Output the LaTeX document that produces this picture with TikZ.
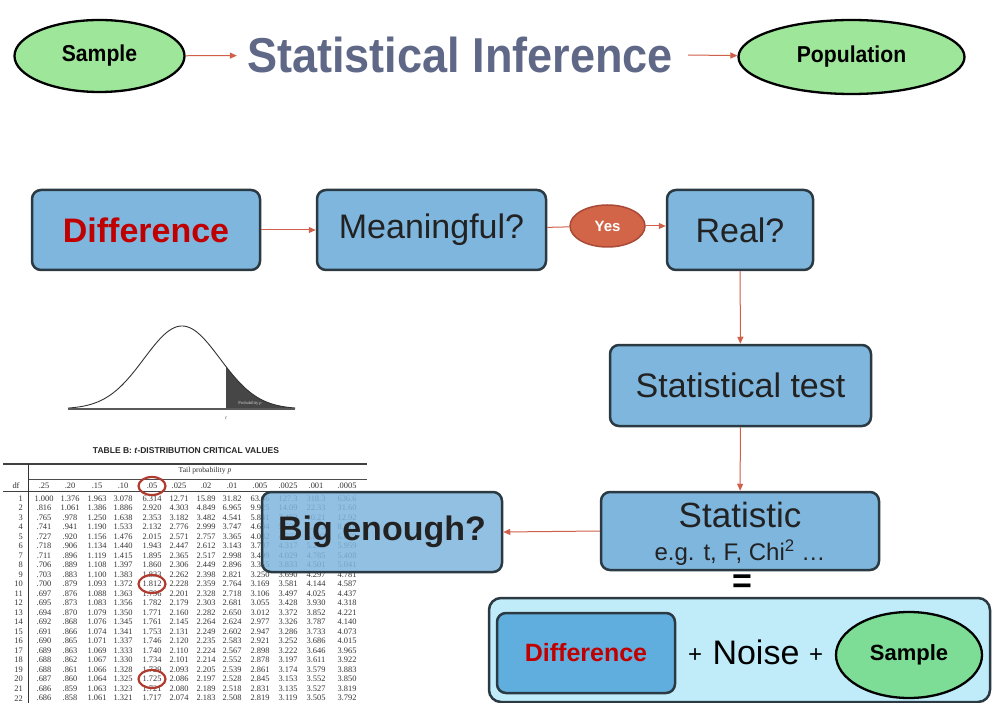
\documentclass[tikz,border=0pt]{standalone}
\usepackage{fontspec}
\usepackage{graphicx}
\setmainfont{Liberation Sans}
\newfontfamily\tabfont{Liberation Serif}
\usetikzlibrary{arrows.meta,shapes.geometric}
\definecolor{boxfill}{HTML}{7FB6DE}
\definecolor{boxline}{HTML}{2B3A42}
\definecolor{arrowc}{HTML}{D0604A}
\definecolor{titlec}{HTML}{5F6887}
\definecolor{diffred}{HTML}{C00000}
\definecolor{greenfill}{HTML}{9EE69A}
\definecolor{greenfilltwo}{HTML}{7DDC95}
\definecolor{yesfill}{HTML}{D26448}
\definecolor{yesline}{HTML}{A94A38}
\definecolor{panelfill}{HTML}{C0ECFA}
\definecolor{innerfill}{HTML}{5FAEDE}
\definecolor{txt}{HTML}{222222}
\definecolor{tabtxt}{HTML}{333333}
\definecolor{circc}{HTML}{B03A2E}
\tikzset{
  flowbox/.style={draw=boxline, line width=2.5pt, fill=boxfill, rounded corners=9pt, inner sep=0pt, text=txt},
  greenell/.style={ellipse, draw=black, line width=2.3pt, fill=greenfill, inner sep=0pt, text=black},
  conn/.style={draw=arrowc, line width=1pt},
  arr/.style={conn, -{Triangle[length=7pt,width=6pt]}},
  tabnum/.style={inner sep=0pt, font=\tabfont\fontsize{8.4}{9}\selectfont, text=tabtxt},
  bigtxt/.style={font=\fontsize{34}{40}\selectfont}
}
\begin{document}
\begin{tikzpicture}[x=1pt,y=1pt]
\useasboundingbox[fill=white] (0,0) rectangle (993,-703);

% ---- top row ----
\node[greenell, minimum width=170pt, minimum height=72pt, font=\bfseries\fontsize{23}{26}\selectfont] (sampletop) at (99.5,-56) {\scalebox{0.92}[1]{Sample}};
\node[inner xsep=10pt, inner ysep=2pt, text=titlec, font=\bfseries\fontsize{49}{54}\selectfont] (title) at (460,-55) {\scalebox{0.92}[1]{Statistical Inference}};
\node[greenell, minimum width=226pt, minimum height=74pt, font=\bfseries\fontsize{23}{26}\selectfont] (population) at (851.5,-57) {\scalebox{0.92}[1]{Population}};
\draw[arr] (sampletop) -- (title);
\draw[arr] ([xshift=5pt]title.east) -- (population);

% ---- t distribution picture ----
\fill[gray!55!black] (226,-409) -- plot[domain=226:295,samples=40] (\x,{-409+83*exp(-0.5*((\x-182)/38)^2)}) -- (295,-409) -- cycle;
\draw[line width=0.9pt, black!80] plot[domain=68:295,samples=100,smooth] (\x,{-409+83*exp(-0.5*((\x-182)/38)^2)});
\draw[line width=1.8pt, gray!70!black] (68,-409) -- (295,-409);
\node[inner sep=0pt, text=gray!35, font=\tabfont\fontsize{4.5}{5}\selectfont] (problab) at (250,-403) {Probability \textit{p}};
\node[inner sep=0pt, font=\tabfont\itshape\fontsize{5}{6}\selectfont, text=tabtxt] (tlab) at (226,-418) {t};
\node[inner sep=0pt, font=\bfseries\fontsize{8.5}{10}\selectfont, text=black!85] (tabtitle) at (186,-451) {TABLE B: \textit{t}-DISTRIBUTION CRITICAL VALUES};

% table rules
\draw[line width=1.1pt, black!75] (3,-464) -- (367,-464);
\draw[line width=0.5pt, black!70] (28,-479) -- (367,-479);
\draw[line width=1pt, black!75] (3,-491) -- (367,-491);
\draw[line width=1pt, black!80] (28,-464) -- (28,-703);
\node[tabnum, font=\tabfont\fontsize{7.6}{9}\selectfont] (tailprob) at (205,-471) {Tail probability \textit{p}};
\node[tabnum] (dfhead) at (16,-486) {df};
\def\colx{{44,70,97,123,152,179,206,232,260,288,316,347}}
\foreach \h [count=\c] in {.25,.20,.15,.10,.05,.025,.02,.01,.005,.0025,.001,.0005}{
  \pgfmathsetmacro\xx{\colx[\c-1]}
  \node[tabnum] (head-\c) at (\xx,-486) {\h};
}
\foreach \r/\vals in {
 1/{1.000,1.376,1.963,3.078,6.314,12.71,15.89,31.82,63.66,127.3,318.3,636.6},
 2/{.816,1.061,1.386,1.886,2.920,4.303,4.849,6.965,9.925,14.09,22.33,31.60},
 3/{.765,.978,1.250,1.638,2.353,3.182,3.482,4.541,5.841,7.453,10.21,12.92},
 4/{.741,.941,1.190,1.533,2.132,2.776,2.999,3.747,4.604,5.598,7.173,8.610},
 5/{.727,.920,1.156,1.476,2.015,2.571,2.757,3.365,4.032,4.773,5.893,6.869},
 6/{.718,.906,1.134,1.440,1.943,2.447,2.612,3.143,3.707,4.317,5.208,5.959},
 7/{.711,.896,1.119,1.415,1.895,2.365,2.517,2.998,3.499,4.029,4.785,5.408},
 8/{.706,.889,1.108,1.397,1.860,2.306,2.449,2.896,3.355,3.833,4.501,5.041},
 9/{.703,.883,1.100,1.383,1.833,2.262,2.398,2.821,3.250,3.690,4.297,4.781},
 10/{.700,.879,1.093,1.372,1.812,2.228,2.359,2.764,3.169,3.581,4.144,4.587},
 11/{.697,.876,1.088,1.363,1.796,2.201,2.328,2.718,3.106,3.497,4.025,4.437},
 12/{.695,.873,1.083,1.356,1.782,2.179,2.303,2.681,3.055,3.428,3.930,4.318},
 13/{.694,.870,1.079,1.350,1.771,2.160,2.282,2.650,3.012,3.372,3.852,4.221},
 14/{.692,.868,1.076,1.345,1.761,2.145,2.264,2.624,2.977,3.326,3.787,4.140},
 15/{.691,.866,1.074,1.341,1.753,2.131,2.249,2.602,2.947,3.286,3.733,4.073},
 16/{.690,.865,1.071,1.337,1.746,2.120,2.235,2.583,2.921,3.252,3.686,4.015},
 17/{.689,.863,1.069,1.333,1.740,2.110,2.224,2.567,2.898,3.222,3.646,3.965},
 18/{.688,.862,1.067,1.330,1.734,2.101,2.214,2.552,2.878,3.197,3.611,3.922},
 19/{.688,.861,1.066,1.328,1.729,2.093,2.205,2.539,2.861,3.174,3.579,3.883},
 20/{.687,.860,1.064,1.325,1.725,2.086,2.197,2.528,2.845,3.153,3.552,3.850},
 21/{.686,.859,1.063,1.323,1.721,2.080,2.189,2.518,2.831,3.135,3.527,3.819},
 22/{.686,.858,1.061,1.321,1.717,2.074,2.183,2.508,2.819,3.119,3.505,3.792}}{
  \pgfmathsetmacro\yy{-(498.3+(\r-1)*9.52)}
  \node[tabnum, anchor=east] (df-\r) at (23,\yy) {\r};
  \foreach \v [count=\c] in \vals {
    \pgfmathsetmacro\xx{\colx[\c-1]}
    \node[tabnum] (cell-\r-\c) at (\xx,\yy) {\v};
  }
}
\draw[circc, line width=2.2pt] (152,-486) ellipse [x radius=13.5, y radius=9];
\draw[circc, line width=2.2pt] (152,-584) ellipse [x radius=13.5, y radius=9];
\draw[circc, line width=2.2pt] (152,-679) ellipse [x radius=13.5, y radius=9];

% ---- flow ----
\node[flowbox, minimum width=228pt, minimum height=80pt, text=diffred, font=\bfseries\fontsize{34}{40}\selectfont] (diff) at (146,-230) {Difference};
\node[flowbox, minimum width=229pt, minimum height=80pt, bigtxt] (mean) at (431.5,-230) {Meaningful?};
\node[ellipse, draw=yesline, line width=1.5pt, fill=yesfill, minimum width=75pt, minimum height=42pt, inner sep=0pt, text=white, font=\bfseries\fontsize{15}{18}\selectfont] (yes) at (607.5,-226) {Yes};
\node[flowbox, minimum width=146pt, minimum height=80pt, bigtxt] (real) at (740,-230) {Real?};
\node[flowbox, minimum width=261pt, minimum height=81pt, bigtxt] (stattest) at (740.5,-385.5) {Statistical test};
\node[flowbox, minimum width=278pt, minimum height=78pt] (statistic) at (740,-531) {};
\node[inner sep=0pt, font=\fontsize{35}{40}\selectfont, text=txt] (statname) at (740,-515) {Statistic};
\node[inner sep=0pt, font=\fontsize{24}{28}\selectfont, text=txt] (stateg) at (740,-553) {e.g. t, F, Chi\textsuperscript{2} …};
\node[flowbox, fill opacity=0.85, text opacity=1, minimum width=240pt, minimum height=80pt, font=\bfseries\fontsize{34}{40}\selectfont] (big) at (382,-532) {Big enough?};

\draw[arr] (diff) -- (mean);
\draw[conn] (mean) -- (yes);
\draw[arr] (yes.east) -- (real.west |- yes.east);
\draw[arr] (real) -- (stattest);
\draw[arr] (stattest) -- (statistic);
\draw[arr] (statistic.west) -- (big.east);

% ---- equation panel ----
\node[inner sep=0pt, font=\bfseries\fontsize{34}{40}\selectfont, text=black] (eq) at (742,-584) {=};
\node[draw=boxline, line width=2.5pt, fill=panelfill, rounded corners=12pt, minimum width=501pt, minimum height=104pt, inner sep=0pt] (panel) at (739.5,-650) {};
\node[flowbox, fill=innerfill, minimum width=178pt, minimum height=80pt, text=diffred, font=\bfseries\fontsize{25}{30}\selectfont] (diffin) at (586,-653) {Difference};
\node[inner sep=0pt, font=\fontsize{24}{28}\selectfont, text=black] (plusa) at (695,-656) {+};
\node[inner sep=0pt, bigtxt, text=black] (noise) at (756,-652) {Noise};
\node[inner sep=0pt, font=\fontsize{24}{28}\selectfont, text=black] (plusb) at (816,-656) {+};
\node[greenell, fill=greenfilltwo, minimum width=146pt, minimum height=86pt, font=\bfseries\fontsize{22}{26}\selectfont] (samplebot) at (909,-655) {Sample};
\end{tikzpicture}
\end{document}
